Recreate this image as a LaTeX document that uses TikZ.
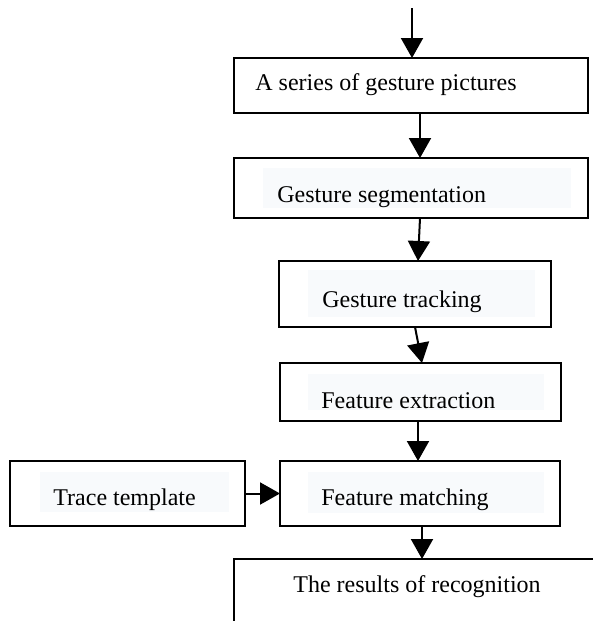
\documentclass[tikz,border=0pt]{standalone}
\usepackage{fontspec}
\setmainfont{Liberation Serif}
\usetikzlibrary{arrows.meta,calc}
\definecolor{faint}{RGB}{248,250,252}
\begin{document}
\begin{tikzpicture}[x=0.5pt,y=-0.5pt,
  box/.style={draw=black,line width=1pt,rectangle,inner sep=0pt,outer sep=0pt},
  bg/.style={fill=faint,draw=none},
  lbl/.style={anchor=base west,inner sep=0pt,font=\fontsize{12pt}{14pt}\selectfont},
  arr/.style={line width=1pt,-{Triangle[length=10pt,width=11pt]}}]
\useasboundingbox (0,0) rectangle (593,621);
\clip (0,0) rectangle (593,621);
% faint text backgrounds
\fill[bg] (263,168) rectangle (571,208);
\fill[bg] (308,270) rectangle (535,317);
\fill[bg] (308,374) rectangle (544,410);
\fill[bg] (308,472) rectangle (544,513);
\fill[bg] (40,472) rectangle (229,512);
% boxes
\node[box,minimum width=177pt,minimum height=27.5pt] (b1) at (411,85.5) {};
\node[box,minimum width=177pt,minimum height=30pt] (b2) at (411,188) {};
\node[box,minimum width=136pt,minimum height=33pt] (b3) at (415,294) {};
\node[box,minimum width=140.5pt,minimum height=29pt] (b4) at (420.5,392) {};
\node[box,minimum width=140pt,minimum height=32.5pt] (b5) at (420,493.5) {};
\node[box,minimum width=117.5pt,minimum height=32.5pt] (bt) at (127.5,493.5) {};
\node[box,minimum width=203pt,minimum height=60.5pt] (b6) at (437,619.5) {};
% texts
\node[lbl] (t1) at (255,90) {A series of gesture pictures};
\node[lbl] (t2) at (277,202) {Gesture segmentation};
\node[lbl] (t3) at (322,307) {Gesture tracking};
\node[lbl] (t4) at (321,408) {Feature extraction};
\node[lbl] (t5) at (321,505) {Feature matching};
\node[lbl] (tt) at (53,505) {Trace template};
\node[lbl] (t6) at (293,592) {The results of recognition};
% connectors
\coordinate (top) at (412,8);
\coordinate (c6) at ($(b5.south)+(2,0)$);
\draw[arr] (top) -- (top |- b1.north);
\draw[arr] ($(b1.south)+(9,0)$) -- ($(b2.north)+(9,0)$);
\draw[arr] ($(b2.south)+(9,0)$) -- ($(b3.north)+(3,0)$);
\draw[arr] (b3.south) -- ($(b4.north)+(1.5,0)$);
\draw[arr] ($(b4.south)+(-2.5,0)$) -- ($(b5.north)+(-2,0)$);
\draw[arr] (bt.east) -- (b5.west);
\draw[arr] (c6) -- (c6 |- b6.north);
\end{tikzpicture}
\end{document}
